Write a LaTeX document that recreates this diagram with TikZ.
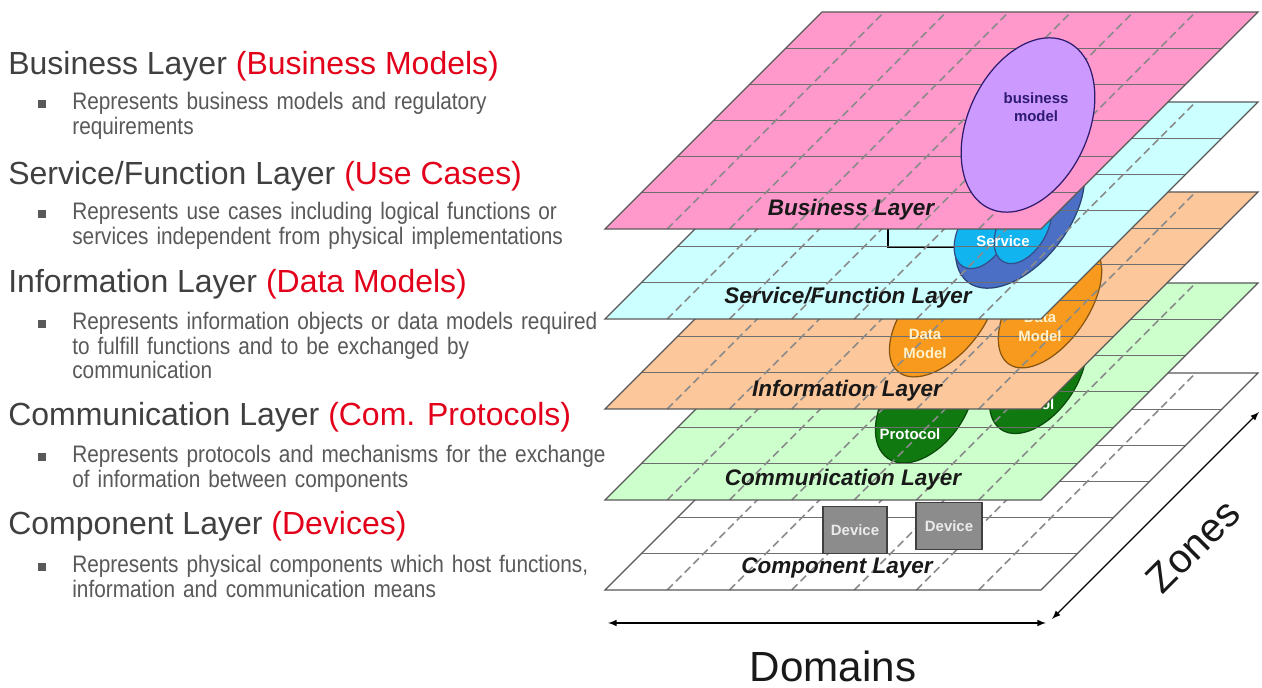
\documentclass[tikz,border=0pt]{standalone}
\usepackage{fontspec}
\setmainfont{Liberation Sans}
\newfontfamily\bodyfont[FakeStretch=0.87]{Liberation Sans}
\usepackage{xcolor}
\usepackage{tikz}
\usetikzlibrary{shapes.geometric}

\definecolor{titlegray}{HTML}{404040}
\definecolor{bodygray}{HTML}{595959}
\definecolor{titlered}{HTML}{E2001A}
\definecolor{busfill}{HTML}{FF99CC}
\definecolor{servfill}{HTML}{CCFFFF}
\definecolor{infofill}{HTML}{FBC79B}
\definecolor{commfill}{HTML}{CCFFCC}
\definecolor{compfill}{HTML}{FFFFFF}
\definecolor{gridgray}{HTML}{6E6E6E}
\definecolor{dashgray}{HTML}{8A8A8A}
\definecolor{bmfill}{HTML}{CC99FF}
\definecolor{bmtext}{HTML}{2E1A6E}
\definecolor{servdark}{HTML}{4A6FC4}
\definecolor{servlight}{HTML}{12B4F0}
\definecolor{dmfill}{HTML}{F79A1E}
\definecolor{dmtextcol}{HTML}{FFF2CC}
\definecolor{protfill}{HTML}{107A10}
\definecolor{devfill}{HTML}{8C8C8C}

% one layer of the model: #1 top edge, #2 fill, #3 what sits on it
\newcommand{\gridlayer}[3]{%
  \fill[#2] (605,{#1+217}) -- (1041,{#1+217}) -- (1258,#1) -- (822,#1) -- cycle;
  #3
  \foreach \k in {1,...,5}
    \draw[rowline] ({605+36.17*\k},{#1+217-36.17*\k}) -- ({1041+36.17*\k},{#1+217-36.17*\k});
  \foreach \k in {1,...,6}
    \draw[colline] ({605+436*\k/7},{#1+217}) -- ({822+436*\k/7},#1);
  \draw[planeedge] (605,{#1+217}) -- (1041,{#1+217}) -- (1258,#1) -- (822,#1) -- cycle;
}

\begin{document}
\begin{tikzpicture}[x=0.02cm, y=-0.02cm, >=latex,
    rowline/.style={draw=gridgray, line width=0.7pt},
    colline/.style={draw=dashgray, line width=0.9pt, dash pattern=on 4.5pt off 2.5pt},
    planeedge/.style={draw=gridgray!80!black, line width=0.8pt},
    layerlabel/.style={font=\bfseries\itshape\fontsize{12.8}{14}\selectfont, text=black!90},
    elltext/.style={font=\bfseries\fontsize{8.5}{10.5}\selectfont, align=center, inner sep=0pt},
    modelell/.style={ellipse, draw, inner sep=0pt, line width=0.7pt},
    devicebox/.style={draw=black!75, line width=0.8pt, fill=devfill, minimum height=0.95cm,
      text=black!8, font=\bfseries\fontsize{8.5}{10}\selectfont},
    titletext/.style={anchor=base west, inner sep=0pt, text=titlegray, font=\fontsize{18.2}{20}\selectfont},
    bodytext/.style={anchor=base west, inner sep=0pt, text=bodygray, align=left, text width=12cm,
      font=\bodyfont\fontsize{13.6}{13.9}\selectfont},
    bulletsq/.style={fill=bodygray, inner sep=0pt, minimum size=0.15cm},
    axisarrow/.style={<->, line width=0.7pt, black}]

    \path[fill=white, use as bounding box] (0,0) rectangle (1262,688);

    % Component layer
    \gridlayer{373}{compfill}{}
    \node[devicebox, minimum width=1.28cm] (dev1) at (855,530) {Device};
    \node[devicebox, minimum width=1.32cm] (dev2) at (949,526) {Device};
    \node[layerlabel] (complabel) at (837,568) {Component Layer};

    % Communication layer
    \gridlayer{283}{commfill}{%
      \node[modelell, draw=protfill!60!black, fill=protfill, minimum width=2.6cm, minimum height=1.6cm, rotate=55] (prot1) at (925,405) {};
      \node[modelell, draw=protfill!60!black, fill=protfill, minimum width=2.6cm, minimum height=1.52cm, rotate=55] (prot2) at (1038,376) {};
    }
    \node[elltext, text=white] (prottext1) at (910,434) {Protocol};
    \node[elltext, text=white] (prottext2) at (1024,404) {Protocol};
    \node[layerlabel] (commlabel) at (843,480) {Communication Layer};

    % Information layer
    \gridlayer{192}{infofill}{%
      \node[modelell, draw=dmfill!55!black, fill=dmfill, minimum width=2.8cm, minimum height=1.52cm, rotate=50] (dm1) at (943,318) {};
      \node[modelell, draw=dmfill!55!black, fill=dmfill, minimum width=2.88cm, minimum height=1.52cm, rotate=55] (dm2) at (1050,305) {};
    }
    \node[elltext, text=dmtextcol] (dmtext1) at (925,344) {Data\\Model};
    \node[elltext, text=dmtextcol] (dmtext2) at (1040,327) {Data\\Model};
    \node[layerlabel] (infolabel) at (847,391) {Information Layer};

    % Service/Function layer
    \gridlayer{102}{servfill}{%
      \draw[black, line width=0.9pt] (888,220) -- (888,247) -- (956,247);
      \node[modelell, draw=servdark!60!black, fill=servdark, minimum width=3.4cm, minimum height=1.92cm, rotate=52] (serv) at (1020,215) {};
      \node[modelell, draw=servdark!70!black, fill=servlight, minimum width=1.6cm, minimum height=0.96cm, rotate=60] (servl) at (983,232) {};
      \node[modelell, draw=servdark!70!black, fill=servlight, minimum width=1.6cm, minimum height=0.96cm, rotate=60] (servr) at (1023,227) {};
    }
    \node[elltext, text=white] (servtext) at (1003,241) {Service};
    \node[layerlabel] (servlabel) at (848,298) {Service/Function Layer};

    % Business layer
    \gridlayer{12}{busfill}{}
    \node[modelell, draw=bmtext, fill=bmfill, minimum width=3.68cm, minimum height=2.4cm, rotate=65] (bm) at (1028,125) {};
    \node[elltext, text=bmtext] (bmtext) at (1036,107) {business\\model};
    \node[layerlabel] (buslabel) at (851,210) {Business Layer};

    % Domains and zones
    \coordinate (domL) at (608,623);
    \coordinate (domR) at (1046,623);
    \coordinate (zonL) at (1052,619);
    \coordinate (zonR) at (1259,412);
    \draw[axisarrow] (domL) -- (domR);
    \draw[axisarrow] (zonL) -- (zonR);
    \node[font=\fontsize{24}{26}\selectfont, text=black!90] (domains) at (833,666) {Domains};
    \node[font=\fontsize{23}{25}\selectfont, text=black!90, rotate=45, inner sep=0pt] (zones) at (1193,546) {Zones};

    % Layer descriptions
    \node[titletext] (bustitle) at (8,75) {Business Layer \textcolor{titlered}{(Business Models)}};
    \node[bulletsq] (busdot) at (42,104) {};
    \node[bodytext] (busdesc) at (72,110) {Represents business models and regulatory\\requirements};

    \node[titletext] (servtitle) at (8,185) {Service/Function Layer \textcolor{titlered}{(Use Cases)}};
    \node[bulletsq] (servdot) at (42,214) {};
    \node[bodytext] (servdesc) at (72,220) {Represents use cases including logical functions or\\services independent from physical implementations};

    \node[titletext] (infotitle) at (8,293) {Information Layer \textcolor{titlered}{(Data Models)}};
    \node[bulletsq] (infodot) at (42,324) {};
    \node[bodytext] (infodesc) at (72,330) {Represents information objects or data models required\\to fulfill functions and to be exchanged by\\communication};

    \node[titletext] (commtitle) at (8,426) {Communication Layer \textcolor{titlered}{(Com. Protocols)}};
    \node[bulletsq] (commdot) at (42,457) {};
    \node[bodytext] (commdesc) at (72,463) {Represents protocols and mechanisms for the exchange\\of information between components};

    \node[titletext] (comptitle) at (8,535) {Component Layer \textcolor{titlered}{(Devices)}};
    \node[bulletsq] (compdot) at (42,567) {};
    \node[bodytext] (compdesc) at (72,573) {Represents physical components which host functions,\\information and communication means};
\end{tikzpicture}
\end{document}
